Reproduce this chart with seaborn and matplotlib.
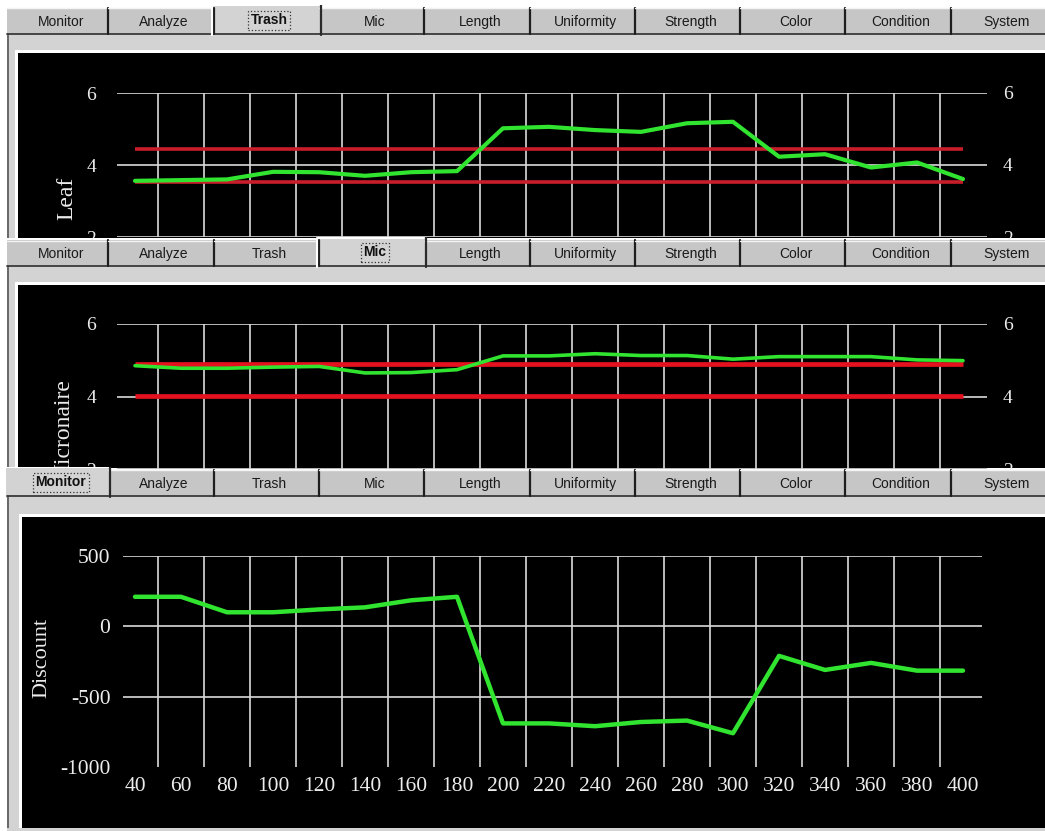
import pandas as pd
import seaborn as sns
import matplotlib.pyplot as plt
from matplotlib.patches import Rectangle

# --- valores (monitor HVI) ---
x_vals = [40, 60, 80, 100, 120, 140, 160, 180, 200, 220, 240, 260, 280, 300, 320, 340, 360, 380, 400]
leaf = [3.56, 3.58, 3.60, 3.81, 3.80, 3.70, 3.80, 3.83, 5.02, 5.06, 4.97, 4.92, 5.16, 5.20, 4.23, 4.30, 3.93, 4.07, 3.61]
micronaire = [4.85, 4.78, 4.78, 4.81, 4.83, 4.65, 4.66, 4.74, 5.12, 5.12, 5.18, 5.13, 5.13, 5.03, 5.10, 5.10, 5.10, 5.01, 4.99]
discount = [210, 210, 100, 100, 120, 135, 185, 210, -690, -690, -710, -680, -670, -760, -210, -310, -260, -315, -315]
leaf_limits = [3.54, 4.44]
mic_limits = [4.02, 4.90]

tab_names = ['Monitor', 'Analyze', 'Trash', 'Mic', 'Length', 'Uniformity', 'Strength', 'Color', 'Condition', 'System']
small_ticks = [2, 4, 6]
disc_ticks = [500, 0, -500, -1000]
disc_tick_labels = ['500', '0', '-500', '-1000']
x_tick_labels = [str(v) for v in x_vals]

df = pd.DataFrame({'x': x_vals, 'Leaf': leaf, 'Micronaire': micronaire, 'Discount': discount})

sns.set_theme(style='white')
plt.rcParams['font.family'] = ['Liberation Serif', 'DejaVu Serif']
plt.rcParams['axes.unicode_minus'] = False

W, H = 1045, 831
GREEN = '#30e430'
RED = '#e3121e'
RED_TOP = '#c81e2c'
GRID = '#dadada'
TAB = '#c6c6c6'
PAGE = '#d3d3d3'
TXT = '#ececec'
grid_x = list(range(50, 400, 20))


def fbox(l, t, w, h):
    # caja en pixeles (arriba-izquierda) -> fraccion de figura
    return [l / W, 1 - (t + h) / H, w / W, h / H]


def px_x(p):
    # pixel horizontal -> valor del eje x (40 en 135px, 20 unidades cada 46px)
    return 40 + (p - 135) / 2.3


fig = plt.figure(figsize=(W / 100, H / 100), dpi=100, facecolor='white')


def marco(top, bottom, sel, black_top, black_left, z):
    fr = fig.add_axes(fbox(0, top, W, bottom - top), zorder=z)
    fr.set_xlim(0, W)
    fr.set_ylim(bottom, top)
    fr.axis('off')
    tab_t, tab_b = top + 3, top + 29
    # pagina gris con borde
    fr.add_patch(Rectangle((7, tab_b), W, bottom - tab_b, fc=PAGE, ec='none'))
    fr.plot([7.5, 7.5], [tab_b, bottom], color='#555555', lw=1.2)
    fr.plot([7, W], [tab_b, tab_b], color='#3a3a3a', lw=1.3)
    fr.add_patch(Rectangle((black_left - 3, black_top - 3), W, bottom, fc='white', ec='none'))
    fr.add_patch(Rectangle((black_left, black_top), W, bottom, fc='black', ec='none'))
    # pestañas
    for i, name in enumerate(tab_names):
        l = max(7, 3 + 105.3 * i)
        r = 3 + 105.3 * (i + 1)
        if i == sel:
            continue
        fr.add_patch(Rectangle((l, tab_t), r - l, tab_b - tab_t, fc=TAB, ec='none'))
        fr.plot([l, r], [tab_t + 0.5, tab_t + 0.5], color='#f4f4f4', lw=1)
        fr.plot([r, r], [tab_t, tab_b], color='#1e1e1e', lw=1.6)
        fr.text((l + r) / 2 + 3, (tab_t + tab_b) / 2 + 1, name, ha='center', va='center',
                fontsize=10, family='Liberation Sans', color='#1a1a1a')
    l = max(7, 3 + 105.3 * sel)
    r = 3 + 105.3 * (sel + 1)
    fr.add_patch(Rectangle((l - 2, top), r - l + 4, tab_b - top + 2, fc=PAGE, ec='none'))
    fr.plot([l - 2, l - 2, r + 2], [tab_b + 1, top + 0.5, top + 0.5], color='white', lw=1.5)
    fr.plot([r + 2, r + 2], [top, tab_b + 1], color='#2a2a2a', lw=1.6)
    fr.text((l + r) / 2 + 3, (top + tab_b) / 2 + 1, tab_names[sel], ha='center', va='center',
            fontsize=10, fontweight='bold', family='Liberation Sans', color='#111111',
            bbox=dict(boxstyle='square,pad=0.18', fc='none', ec='#333333', ls=':', lw=0.9))
    return fr


def panel(px, xlim, ylim, z):
    ax = fig.add_axes(fbox(*px), zorder=z)
    ax.set_facecolor('black')
    ax.set_xlim(*xlim)
    ax.set_ylim(*ylim)
    for s in ax.spines.values():
        s.set_visible(False)
    ax.vlines(grid_x, ylim[0], ylim[1], color=GRID, lw=1.2, zorder=1)
    return ax


# ---- Panel 1: Trash / Leaf ----
marco(5, 238, 2, 53, 18, 1)
ax1 = panel((117, 93, 870, 144), (px_x(117), px_x(987)), (2, 6), 2)
ax1.hlines(small_ticks, px_x(117), px_x(987), color=GRID, lw=1.2, zorder=1)
ax1.hlines(leaf_limits, x_vals[0], x_vals[-1], color=RED_TOP, lw=2.6, zorder=2)
sns.lineplot(data=df, x='x', y='Leaf', ax=ax1, color=GREEN, lw=3.0, zorder=3)
ax1.set_xticks([])
ax1.set_xlabel('')
ax1.set_yticks(small_ticks)
ax1.tick_params(axis='y', colors=TXT, length=0, labelsize=14, pad=15)
ax1.set_ylabel('Leaf', color=TXT, fontsize=17)
ax1.yaxis.set_label_coords(-0.045, 0.27)
ax1r = ax1.twinx()
ax1r.set_zorder(2)
ax1r.set_ylim(2, 6)
ax1r.set_yticks(small_ticks)
ax1r.tick_params(axis='y', colors=TXT, length=0, labelsize=14, pad=11.5)
for s in ax1r.spines.values():
    s.set_visible(False)

# ---- Panel 2: Mic / Micronaire ----
marco(237, 468, 3, 285, 18, 3)
ax2 = panel((117, 324, 870, 145), (px_x(117), px_x(987)), (2, 6), 4)
ax2.hlines(small_ticks, px_x(117), px_x(987), color=GRID, lw=1.2, zorder=1)
ax2.hlines(mic_limits, x_vals[0], x_vals[-1], color=RED, lw=3.4, zorder=2)
sns.lineplot(data=df, x='x', y='Micronaire', ax=ax2, color=GREEN, lw=2.6, zorder=3)
ax2.set_xticks([])
ax2.set_xlabel('')
ax2.set_yticks(small_ticks)
ax2.tick_params(axis='y', colors=TXT, length=0, labelsize=14, pad=15)
ax2.set_ylabel('Micronaire', color=TXT, fontsize=17)
ax2.yaxis.set_label_coords(-0.049, 0.255)
ax2r = ax2.twinx()
ax2r.set_zorder(4)
ax2r.set_ylim(2, 6)
ax2r.set_yticks(small_ticks)
ax2r.tick_params(axis='y', colors=TXT, length=0, labelsize=14, pad=11.5)
for s in ax2r.spines.values():
    s.set_visible(False)

# ---- Panel 3: Monitor / Discount ----
marco(467, 831, 0, 517, 22, 5)
# franja gris inferior
ax3 = panel((123, 556, 859, 211), (px_x(123), px_x(982)), (-1000, 500), 6)
ax3.hlines(disc_ticks[:-1], px_x(123), px_x(982), color=GRID, lw=1.2, zorder=1)
sns.lineplot(data=df, x='x', y='Discount', ax=ax3, color=GREEN, lw=3.2, zorder=3)
ax3.set_xticks(x_vals, labels=x_tick_labels)
ax3.set_yticks(disc_ticks, labels=disc_tick_labels)
ax3.tick_params(axis='x', colors=TXT, length=0, labelsize=15.5, pad=7)
ax3.tick_params(axis='y', colors=TXT, length=0, labelsize=15.5, pad=9)
ax3.set_xlabel('')
ax3.set_ylabel('Discount', color=TXT, fontsize=16)
ax3.yaxis.set_label_coords(-0.083, 0.517)

# borde gris al pie de la ventana
pie = fig.add_axes(fbox(0, 828, W, 3), zorder=7)
pie.axis('off')
pie.set_xlim(0, W)
pie.set_ylim(3, 0)
pie.add_patch(Rectangle((7, 0), W, 3, fc=PAGE, ec='none'))

fig.savefig('out.png', dpi=100, facecolor='white')
